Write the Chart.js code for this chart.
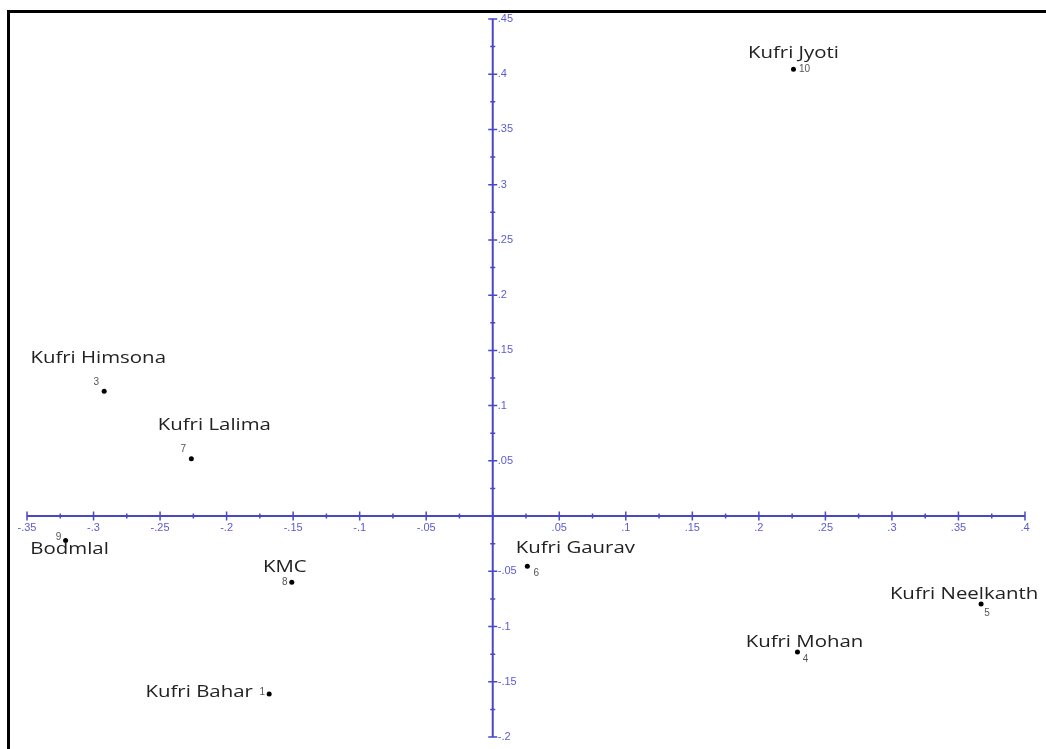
<!DOCTYPE html>
<html>
<head>
<meta charset="utf-8">
<script src="https://cdn.jsdelivr.net/npm/chart.js@4/dist/chart.umd.min.js"></script>
<style>
  html, body { margin: 0; padding: 0; background: #ffffff; }
  #wrap { position: relative; width: 1046px; height: 749px; overflow: hidden; }
  #c { position: absolute; left: 0; top: 0; }
  #frame { position: absolute; left: 7px; top: 10px; right: -10px; bottom: -10px;
           border-left: 3px solid #000; border-top: 3px solid #000; pointer-events: none; }
</style>
</head>
<body>
<div id="wrap">
  <canvas id="c" width="1046" height="749"></canvas>
  <div id="frame"></div>
</div>
<script>
// ---- data ----
const varietyNames = ['Kufri Bahar', 'Kufri Himsona', 'Kufri Lalima', 'Bodmlal', 'KMC',
                      'Kufri Gaurav', 'Kufri Mohan', 'Kufri Neelkanth', 'Kufri Jyoti'];
const varietyIds   = ['1', '3', '7', '9', '8', '6', '4', '5', '10'];
const xValues      = [-0.168, -0.292, -0.2265, -0.321, -0.151, 0.026, 0.229, 0.367, 0.226];
const yValues      = [-0.161, 0.113, 0.052, -0.022, -0.060, -0.0455, -0.123, -0.0795, 0.4045];
const xRange = [-0.35, 0.40];
const yRange = [-0.20, 0.45];
const tickStep = 0.025;

// ---- label placement (pixel offsets from each point; style only) ----
const nameOffsets = [[-70, -2], [-6, -33], [23, -33], [4, 9], [-7, -15], [48, -18], [7, -10], [-17, -10], [0, -16]];
const idOffsets   = [[-7, -2], [-8, -9], [-8, -9], [-7, -3], [-7, 0], [9, 7], [8, 7], [6, 9], [11, 0]];

const axisColor = '#4848c6';
const tickLabelColor = '#5b5bd4';

function fmtTick(v) {
  const r = Math.round(v * 1000) / 1000;
  if (Math.abs(r) < 1e-9) return '';
  let s = String(Math.abs(r)).replace(/^0\./, '.');
  return (r < 0 ? '-' : '') + s;
}
function isMajor(v) {
  return Math.abs(Math.round(v / tickStep)) % 2 === 0;
}

const points = xValues.map((x, i) => ({ x: x, y: yValues[i] }));

const axesPlugin = {
  id: 'crossAxes',
  afterDraw(chart) {
    const ctx = chart.ctx;
    const xs = chart.scales.x, ys = chart.scales.y;
    const x0 = xs.getPixelForValue(0), y0 = ys.getPixelForValue(0);
    ctx.save();
    ctx.strokeStyle = axisColor;
    ctx.lineWidth = 2;
    ctx.beginPath();
    ctx.moveTo(xs.left, y0); ctx.lineTo(xs.right, y0);
    ctx.moveTo(x0, ys.top); ctx.lineTo(x0, ys.bottom);
    ctx.stroke();
    ctx.lineWidth = 1.5;
    ctx.beginPath();
    xs.ticks.forEach(t => {
      const p = xs.getPixelForValue(t.value);
      const h = isMajor(t.value) ? 4.5 : 2.5;
      ctx.moveTo(p, y0 - h); ctx.lineTo(p, y0 + h);
    });
    ys.ticks.forEach(t => {
      const p = ys.getPixelForValue(t.value);
      const h = isMajor(t.value) ? 4.5 : 2.5;
      ctx.moveTo(x0 - h, p); ctx.lineTo(x0 + h, p);
    });
    ctx.stroke();
    // y tick labels, right of the vertical axis
    ctx.fillStyle = tickLabelColor;
    ctx.font = '11px "Liberation Sans", Arial, sans-serif';
    ctx.textAlign = 'left';
    ctx.textBaseline = 'middle';
    ys.ticks.forEach(t => {
      if (!isMajor(t.value)) return;
      const s = fmtTick(t.value);
      if (s) ctx.fillText(s, x0 + 5, ys.getPixelForValue(t.value));
    });
    // point labels
    points.forEach((pt, i) => {
      const px = xs.getPixelForValue(pt.x), py = ys.getPixelForValue(pt.y);
      ctx.save();
      ctx.translate(px + nameOffsets[i][0], py + nameOffsets[i][1]);
      ctx.scale(1.2, 1);
      ctx.font = '17px "Open Sans", "Noto Sans", sans-serif';
      ctx.fillStyle = '#222222';
      ctx.textAlign = 'center';
      ctx.textBaseline = 'middle';
      ctx.fillText(varietyNames[i], 0, 0);
      ctx.restore();
      ctx.save();
      ctx.font = '10px "Liberation Sans", Arial, sans-serif';
      ctx.fillStyle = '#555555';
      ctx.textAlign = 'center';
      ctx.textBaseline = 'middle';
      ctx.fillText(varietyIds[i], px + idOffsets[i][0], py + idOffsets[i][1]);
      ctx.restore();
    });
    ctx.restore();
  }
};

new Chart(document.getElementById('c'), {
  type: 'scatter',
  data: {
    datasets: [{
      data: points,
      pointRadius: 2.5,
      pointHoverRadius: 2.5,
      pointBackgroundColor: '#000000',
      pointBorderWidth: 0,
      showLine: false
    }]
  },
  options: {
    responsive: false,
    animation: false,
    devicePixelRatio: 1,
    layout: { padding: { left: 27, right: 21, top: 19, bottom: 12 } },
    plugins: { legend: { display: false }, tooltip: { enabled: false } },
    scales: {
      x: {
        type: 'linear',
        min: xRange[0], max: xRange[1],
        position: { y: 0 },
        grid: { display: false, drawTicks: false },
        border: { display: false },
        ticks: {
          stepSize: tickStep,
          autoSkip: false,
          maxRotation: 0, minRotation: 0,
          padding: 5,
          color: tickLabelColor,
          font: { family: '"Liberation Sans", Arial, sans-serif', size: 11 },
          callback: (v) => isMajor(v) ? fmtTick(v) : ''
        }
      },
      y: {
        type: 'linear',
        min: yRange[0], max: yRange[1],
        position: { x: 0 },
        grid: { display: false, drawTicks: false },
        border: { display: false },
        ticks: {
          stepSize: tickStep,
          autoSkip: false,
          display: false
        }
      }
    }
  },
  plugins: [axesPlugin]
});
</script>
</body>
</html>
